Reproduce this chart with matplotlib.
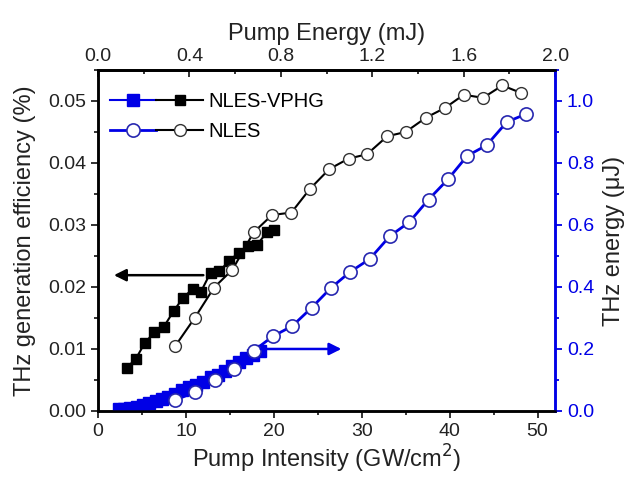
import matplotlib
matplotlib.use("Agg")
import matplotlib.pyplot as plt
from matplotlib.legend_handler import HandlerTuple
from matplotlib.ticker import MultipleLocator, FixedLocator

plt.rcParams['font.family'] = ['Liberation Sans', 'DejaVu Sans']

# NLES-VPHG efficiency (%) vs pump intensity (GW/cm^2)
vphg_x = [3.3, 4.3, 5.3, 6.4, 7.5, 8.6, 9.7, 10.8, 11.7, 12.8, 13.8, 14.9,
          16.0, 17.1, 18.1, 19.2, 20.0]
vphg_eff = [0.0070, 0.0084, 0.0109, 0.0127, 0.0136, 0.0161, 0.0183, 0.0197,
            0.0192, 0.0223, 0.0225, 0.0242, 0.0255, 0.0266, 0.0268, 0.0288, 0.0292]

# NLES-VPHG THz energy (uJ)
vphg_ex = [2.4, 3.0, 3.7, 4.4, 5.1, 5.8, 6.6, 7.3, 8.0, 8.8, 9.6, 10.4, 11.2,
           12.0, 12.8, 13.6, 14.4, 15.2, 16.0, 16.8, 17.6, 18.4]
vphg_energy = [0.006, 0.008, 0.011, 0.014, 0.020, 0.026, 0.032, 0.038, 0.045,
               0.056, 0.067, 0.077, 0.084, 0.092, 0.109, 0.117, 0.130, 0.144,
               0.157, 0.171, 0.181, 0.193]

# NLES efficiency (%)
nles_x = [8.8, 11.0, 13.2, 15.3, 17.7, 19.8, 22.0, 24.1, 26.3, 28.5, 30.6,
          32.9, 35.0, 37.3, 39.5, 41.6, 43.8, 46.0, 48.1]
nles_eff = [0.0105, 0.0150, 0.0199, 0.0228, 0.0288, 0.0316, 0.0320, 0.0358,
            0.0390, 0.0407, 0.0414, 0.0443, 0.0450, 0.0473, 0.0489, 0.0510,
            0.0505, 0.0525, 0.0513]

# NLES THz energy (uJ)
nles_ex = [8.8, 11.0, 13.3, 15.5, 17.7, 19.9, 22.1, 24.3, 26.5, 28.7, 30.9,
           33.2, 35.4, 37.6, 39.8, 42.0, 44.2, 46.5, 48.7]
nles_energy = [0.035, 0.061, 0.100, 0.135, 0.194, 0.241, 0.274, 0.333, 0.397,
               0.449, 0.490, 0.564, 0.609, 0.682, 0.747, 0.823, 0.857, 0.932,
               0.958]

# top axis (pump energy, mJ)
energy_ticks = [0.0, 0.4, 0.8, 1.2, 1.6, 2.0]
energy_minor = [0.2, 0.6, 1.0, 1.4, 1.8]

blue = '#0000e6'

fig = plt.figure(figsize=(6.28, 4.79), dpi=100)
ax = fig.add_axes([0.156, 0.142, 0.728, 0.712])
ax2 = ax.twinx()

sq_k, = ax.plot(vphg_x, vphg_eff, 's-', color='black', ms=7, lw=1.5)
ci_k, = ax.plot(nles_x, nles_eff, 'o-', color='black', mfc='white', mec='#333333',
                ms=8.5, mew=1.0, lw=1.5)
sq_b, = ax2.plot(vphg_ex, vphg_energy, 's-', color=blue, ms=9, lw=1.5)
ci_b, = ax2.plot(nles_ex, nles_energy, 'o-', color=blue, mfc='white', mec='#2828b0',
                 ms=9.5, mew=1.2, lw=2)

# arrows pointing to each axis
ax.annotate('', xy=(1.5, 0.0219), xytext=(12.3, 0.0219),
            arrowprops=dict(arrowstyle='-|>', color='black', lw=1.8, mutation_scale=18))
ax2.annotate('', xy=(28.0, 0.2), xytext=(18.2, 0.2),
             arrowprops=dict(arrowstyle='-|>', color=blue, lw=1.8, mutation_scale=18))

ax.set_xlim(0, 52)
ax.set_ylim(0, 0.055)
ax2.set_ylim(0, 1.1)

ax.xaxis.set_major_locator(MultipleLocator(10))
ax.xaxis.set_minor_locator(MultipleLocator(5))
ax.yaxis.set_major_locator(MultipleLocator(0.01))
ax.yaxis.set_minor_locator(MultipleLocator(0.005))
ax.yaxis.set_major_formatter(matplotlib.ticker.FormatStrFormatter('%.2f'))
ax2.yaxis.set_major_locator(MultipleLocator(0.2))
ax2.yaxis.set_minor_locator(MultipleLocator(0.1))
ax2.yaxis.set_major_formatter(matplotlib.ticker.FormatStrFormatter('%.1f'))

top = ax.secondary_xaxis('top', functions=(lambda x: x * 2.0 / 52, lambda e: e * 52 / 2.0))
top.xaxis.set_major_locator(FixedLocator(energy_ticks))
top.xaxis.set_minor_locator(FixedLocator(energy_minor))
top.xaxis.set_major_formatter(matplotlib.ticker.FormatStrFormatter('%.1f'))

tc = '#222222'
ax.tick_params(which='both', direction='out', labelsize=14, colors=tc, width=1.3)
ax.tick_params(which='major', length=5)
ax.tick_params(which='minor', length=3)
ax2.tick_params(which='both', direction='out', labelsize=14, colors=blue, width=1.3)
ax2.tick_params(which='major', length=5)
ax2.tick_params(which='minor', length=3)
top.tick_params(which='both', direction='in', labelsize=14, colors=tc, width=1.3)
top.tick_params(which='major', length=5)
top.tick_params(which='minor', length=3)

for a in (ax, ax2):
    for s in a.spines.values():
        s.set_linewidth(1.8)
ax.spines['right'].set_color(blue)
ax2.spines['right'].set_color(blue)
top.spines['top'].set_linewidth(1.8)

ax.set_xlabel('Pump Intensity (GW/cm$^2$)', fontsize=17, color=tc, labelpad=2)
ax.set_ylabel('THz generation efficiency (%)', fontsize=17, color=tc, labelpad=9)
ax2.set_ylabel('THz energy (\u03bcJ)', fontsize=17, color=tc, labelpad=6)
top.set_xlabel('Pump Energy (mJ)', fontsize=17, color=tc, labelpad=6)

ax2.legend([(sq_b, sq_k), (ci_b, ci_k)], ['NLES-VPHG', 'NLES'],
           handler_map={tuple: HandlerTuple(ndivide=None, pad=0)},
           loc='upper left', bbox_to_anchor=(0.0, 0.97), frameon=False,
           fontsize=14.5, handlelength=4.6, handletextpad=0.3, labelspacing=0.55,
           borderaxespad=0.2)

fig.savefig('out.png', dpi=100)
